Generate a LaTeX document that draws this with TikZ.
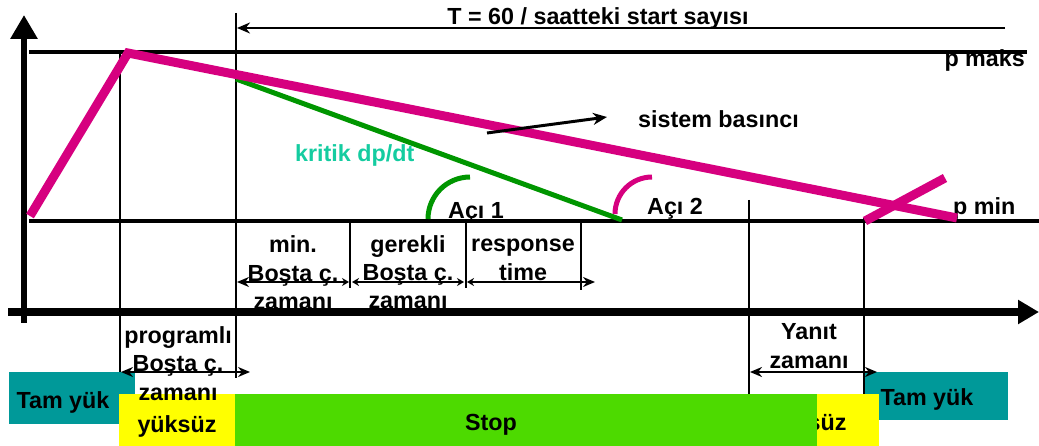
\documentclass[tikz,border=0pt]{standalone}
\usepackage{fontspec}
\setmainfont{Liberation Sans}
\usetikzlibrary{arrows.meta}

\definecolor{pressure}{RGB}{214,0,127}
\definecolor{critline}{RGB}{0,150,0}
\definecolor{crittext}{RGB}{20,204,160}
\definecolor{fullload}{RGB}{0,153,153}
\definecolor{stopgreen}{RGB}{77,218,0}
\definecolor{idleyellow}{RGB}{255,255,0}

\newcommand\lblfont{\fontsize{23.3}{28.5}\selectfont\bfseries}

\tikzset{
  bigtip/.tip={Stealth[length=12pt,width=10pt]},
  smalltip/.tip={Stealth[length=7pt,width=8pt]}
}

\begin{document}
\begin{tikzpicture}[x=1pt,y=-1pt,
  lbl/.style={font=\lblfont, inner sep=0pt, align=center, anchor=base},
  gridline/.style={line width=2pt},
  level/.style={line width=3.5pt},
  span/.style={line width=2.2pt},
  angle/.style={line width=5pt}]

\useasboundingbox (0,0) rectangle (1039,446);

% ---- operating-state bars along the bottom ----
\fill[fullload]   (9,372)   rectangle (135,424);
\fill[idleyellow] (119,394) rectangle (235,446);
\fill[fullload]   (864,372) rectangle (1008,420);
\fill[idleyellow] (755,394) rectangle (879,446);
\node[lbl] (idleR) at (807,430) {yüksüz};
\fill[stopgreen]  (235,394) rectangle (817,446);
\node[lbl] (stop)  at (491,430) {Stop};
\node[lbl] (fullL) at (63,408)  {Tam yük};
\node[lbl] (fullR) at (927,405) {Tam yük};
\node[lbl] (idleL) at (177,432) {yüksüz};

% ---- key points ----
\coordinate (pmaxL) at (29,52);   \coordinate (pmaxR) at (1027,52);
\coordinate (pminL) at (29,221);  \coordinate (pminR) at (1039,221);
\coordinate (start) at (30,216);  \coordinate (peak)  at (128,53);
\coordinate (pend)  at (957,218);
\coordinate (cstart) at (236,79); \coordinate (cend)  at (622,220);
\coordinate (loadA) at (865,221); \coordinate (loadB) at (945,178);

% ---- time divisions ----
\draw[gridline] (120,52)  -- (120,372);
\draw[gridline] (236,13)  -- (236,378);
\draw[gridline] (350,221) -- (350,288);
\draw[gridline] (466,221) -- (466,288);
\draw[gridline] (581,221) -- (581,290);
\draw[gridline] (749,200) -- (749,394);
\draw[gridline] (864,218) -- (864,394);

% ---- pressure limits ----
\draw[level] (pmaxL) -- (pmaxR);
\draw[level] (pminL) -- (pminR);
\node[lbl, anchor=base east] (pmax) at (1025,67) {p maks};
\node[lbl, anchor=base west] (pmin) at (953,215) {p min};

% ---- period arrow ----
\coordinate (tR) at (1005,28); \coordinate (tL) at (237,28);
\draw[line width=2.5pt, -{Stealth[length=13pt,width=11pt]}] (tR) -- (tL);
\node[lbl] (period) at (598,25) {T = 60 / saatteki start sayısı};

% ---- interval labels (anchored at the last line's baseline) ----
\node[lbl] (minidle)  at (293,310)   {min.\\Boşta ç.\\zamanı};
\node[lbl] (reqidle)  at (408,309)   {gerekli\\Boşta ç.\\zamanı};
\node[lbl] (resp)     at (523,280.5) {response\\time};
\node[lbl] (progidle) at (178,400)   {programlı\\Boşta ç.\\zamanı};
\node[lbl] (answer)   at (809,368.5) {Yanıt\\zamanı};

% ---- interval spans ----
\coordinate (s1) at (237,282); \coordinate (s2) at (349,282);
\coordinate (s3) at (352,282); \coordinate (s4) at (464,282);
\coordinate (s5) at (467,282); \coordinate (s6) at (595,282);
\draw[span, {bigtip}-{smalltip}]   (s1) -- (s2);
\draw[span, {smalltip}-{smalltip}] (s3) -- (s4);
\draw[span, {smalltip}-{bigtip}]   (s5) -- (s6);
\coordinate (p1) at (121,372); \coordinate (p2) at (250,372);
\draw[span, {bigtip}-{bigtip}] (p1) -- (p2);
\coordinate (y1) at (750,372); \coordinate (y2) at (877,372);
\draw[span, {bigtip}-{bigtip}] (y1) -- (y2);

% ---- axes ----
\coordinate (ybot) at (24,323); \coordinate (ytop) at (24,15);
\coordinate (xl) at (8,312);    \coordinate (xr) at (1039,312);
\draw[line width=6pt, -{Triangle[length=24pt,width=26pt]}] (ybot) -- (ytop);
\draw[line width=8pt, -{Triangle[length=21pt,width=23pt]}] (xl) -- (xr);

% ---- critical gradient ----
\draw[critline, line width=5pt] (cstart) -- (cend);
\node[lbl, anchor=base west, text=crittext] (crit) at (295,162) {kritik dp/dt};

% ---- system pressure ----
\draw[pressure, line width=9pt, line join=miter] (start) -- (peak) -- (pend);
\draw[pressure, line width=9pt] (loadA) -- (loadB);

% ---- angles ----
\draw[critline, angle] (428,219) arc[start angle=180, end angle=270, radius=42];
\draw[pressure, angle] (615,214) arc[start angle=180, end angle=270, radius=37];
\node[lbl, anchor=base west] (ang1) at (448,219) {Açı 1};
\node[lbl, anchor=base west] (ang2) at (647,215) {Açı 2};

% ---- pressure label ----
\coordinate (arrS) at (487,133); \coordinate (arrE) at (607,117);
\draw[line width=3pt, -{Stealth[length=14pt,width=12pt]}] (arrS) -- (arrE);
\node[lbl, anchor=base west] (syspress) at (638,128) {sistem basıncı};

\end{tikzpicture}
\end{document}
